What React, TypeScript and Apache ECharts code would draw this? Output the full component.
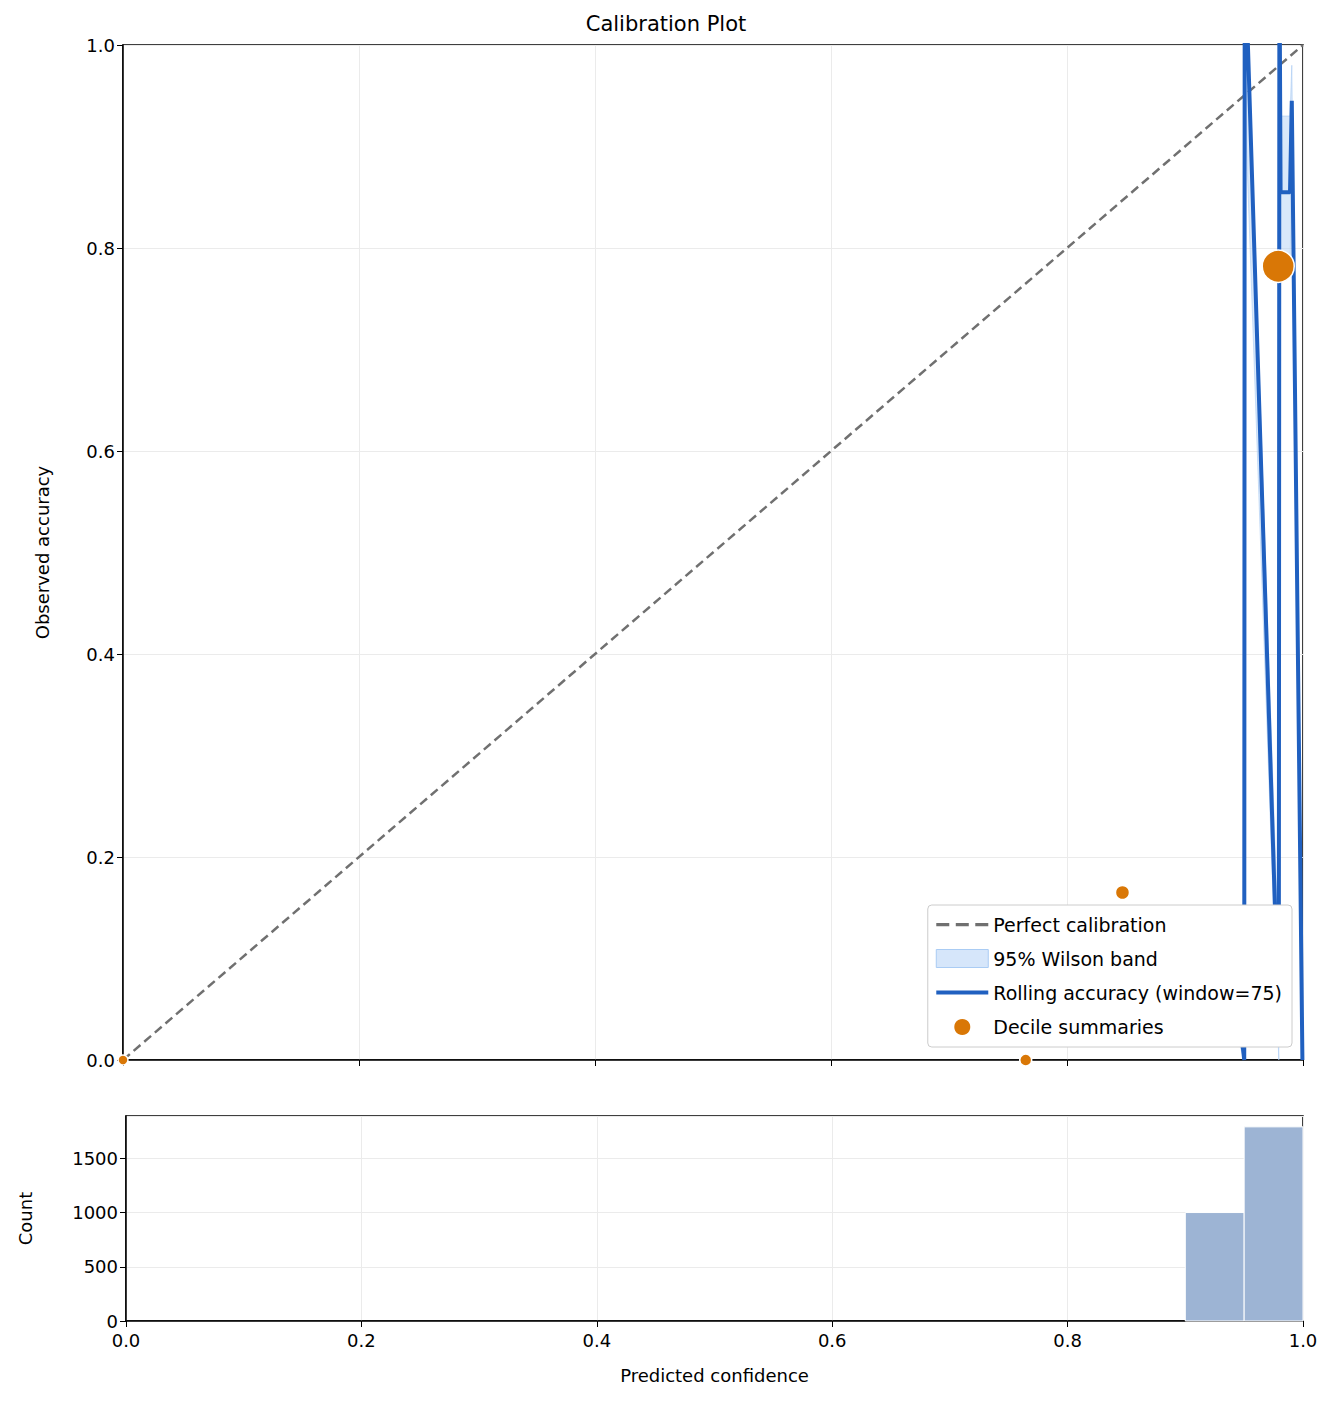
import React, { useEffect, useRef } from "react";
import * as echarts from "echarts";

const diagonal = [[0, 0], [1, 1]];
const rollingX = [0.919, 0.945, 0.9502, 0.9506, 0.9795, 0.98, 0.981, 0.989, 0.9905, 0.9995];
const rollingY = [0.07, 0.055, 0.0, 1.1, 0.03, 1.1, 0.855, 0.855, 0.945, 0.0];
const bandX = [0.919, 0.945, 0.9502, 0.9506, 0.9795, 0.98, 0.981, 0.989, 0.9905, 0.9995];
const bandLow = [0.03, 0.02, 0.0, 0.95, 0.0, 0.9, 0.78, 0.78, 0.88, 0.0];
const bandHigh = [0.145, 0.125, 0.08, 1.1, 0.1, 1.1, 0.93, 0.93, 0.98, 0.06];
const decileX = [0.0, 0.765, 0.847, 0.979];
const decileY = [0.0, 0.0, 0.165, 0.782];
const decileSize = [10, 12, 14, 32];
const histEdges = [0.9, 0.95, 1.0];
const histCounts = [1000, 1790];

const font = "DejaVu Sans";
const blue = "#2060c0";
const orange = "#d97706";

export default function App() {
  const ref = useRef<HTMLDivElement>(null);
  useEffect(() => {
    if (!ref.current) return;
    const chart = echarts.init(ref.current, null, { renderer: "svg" });
    const split = { show: true, lineStyle: { color: "#ebebeb" } };
    const axLine = { show: true, lineStyle: { color: "#000", width: 1.5 } };
    const lbl = { color: "#000", fontSize: 18, fontFamily: font };
    const nameStyle = { fontSize: 18, fontFamily: font, color: "#000" };
    const bandPoly = bandX.map((x, i) => [x, bandHigh[i]]).concat(
      bandX.map((x, i) => [x, bandLow[i]]).reverse()
    );
    chart.setOption({
      animation: false,
      title: {
        text: "Calibration Plot", left: "center", top: 0,
        textStyle: { fontSize: 21, fontWeight: "normal", color: "#000", fontFamily: font },
      },
      legend: {
        right: 32, bottom: 349, orient: "vertical", itemGap: 15,
        backgroundColor: "#fff", borderColor: "#ccc", borderWidth: 1, borderRadius: 4,
        padding: [10, 10, 10, 8], itemWidth: 52, itemHeight: 18,
        textStyle: { fontSize: 19, fontFamily: font, color: "#000" },
        data: [
          { name: "Perfect calibration", icon: "path://M0,7h10v2.5h-10zM15,7h10v2.5h-10zM30,7h10v2.5h-10z", itemStyle: { color: "#707070" } },
          { name: "95% Wilson band", icon: "rect", itemStyle: { color: "#d6e6fa", borderColor: "#aaccf4", borderWidth: 1 } },
          { name: "Rolling accuracy (window=75)", icon: "path://M0,7h40v3h-40z", itemStyle: { color: blue } },
          { name: "Decile summaries", icon: "circle", itemStyle: { color: orange } },
        ],
      },
      grid: [
        { left: 115, top: 37, width: 1180, height: 1015, show: true, borderColor: "#000", borderWidth: 1.5 },
        { left: 115, top: 1108, width: 1180, height: 205, show: true, borderColor: "#000", borderWidth: 1.5 },
      ],
      xAxis: [
        { gridIndex: 0, type: "value", min: 0, max: 1, interval: 0.2, axisLine: axLine, axisTick: { show: true, length: 6 }, axisLabel: { show: false }, splitLine: split },
        { gridIndex: 1, type: "value", min: 0, max: 1, interval: 0.2, axisLine: axLine, axisTick: { show: true, length: 6 }, axisLabel: { ...lbl, formatter: (v: number) => v.toFixed(1), margin: 10 }, splitLine: split,
          name: "Predicted confidence", nameLocation: "middle", nameGap: 45, nameTextStyle: nameStyle },
      ],
      yAxis: [
        { gridIndex: 0, type: "value", min: 0, max: 1, interval: 0.2, axisLine: axLine, axisTick: { show: true, length: 6 }, axisLabel: { ...lbl, formatter: (v: number) => v.toFixed(1) }, splitLine: split,
          name: "Observed accuracy", nameLocation: "middle", nameGap: 72, nameTextStyle: nameStyle },
        { gridIndex: 1, type: "value", min: 0, max: 1890, interval: 500, axisLine: axLine, axisTick: { show: true, length: 6 },
          axisLabel: { ...lbl, showMaxLabel: false, formatter: (v: number) => String(v) }, splitLine: split,
          name: "Count", nameLocation: "middle", nameGap: 92, nameTextStyle: nameStyle },
      ],
      series: [
        {
          name: "95% Wilson band", type: "custom", xAxisIndex: 0, yAxisIndex: 0,
          data: [0],
          renderItem: (params: any, api: any) => ({
            type: "polygon",
            shape: { points: bandPoly.map((p) => api.coord(p)) },
            style: { fill: "rgba(170,204,244,0.45)", stroke: "rgba(170,204,244,0.6)", lineWidth: 1 },
            clipPath: { type: "rect", shape: { x: params.coordSys.x, y: params.coordSys.y, width: params.coordSys.width, height: params.coordSys.height } },
          }),
          itemStyle: { color: "#d6e6fa" },
          z: 1,
        },
        {
          name: "Perfect calibration", type: "line", xAxisIndex: 0, yAxisIndex: 0, data: diagonal, symbol: "none",
          lineStyle: { color: "#707070", width: 2.5, type: [9, 5] }, z: 2,
        },
        {
          name: "Rolling accuracy (window=75)", type: "line", xAxisIndex: 0, yAxisIndex: 0, clip: true,
          data: rollingX.map((x, i) => [x, rollingY[i]]), symbol: "none",
          lineStyle: { color: blue, width: 4 }, z: 3,
        },
        {
          name: "Decile summaries", type: "scatter", xAxisIndex: 0, yAxisIndex: 0, clip: false,
          data: decileX.map((x, i) => [x, decileY[i], decileSize[i]]),
          symbolSize: (v: number[]) => v[2],
          itemStyle: { color: orange, opacity: 1, borderColor: "#fff", borderWidth: 1.5 }, z: 4,
        },
        {
          type: "custom", xAxisIndex: 1, yAxisIndex: 1,
          data: histCounts.map((c, i) => [histEdges[i], histEdges[i + 1], c]),
          renderItem: (params: any, api: any) => {
            const a = api.coord([api.value(0), api.value(2)]);
            const b = api.coord([api.value(1), 0]);
            return { type: "rect", shape: { x: a[0], y: a[1], width: b[0] - a[0], height: b[1] - a[1] },
              style: { fill: "#9db4d4", stroke: "#fff", lineWidth: 1 } };
          },
          z: 2,
        },
      ],
    });
    return () => chart.dispose();
  }, []);
  return <div ref={ref} style={{ width: 1316, height: 1388 }} />;
}
